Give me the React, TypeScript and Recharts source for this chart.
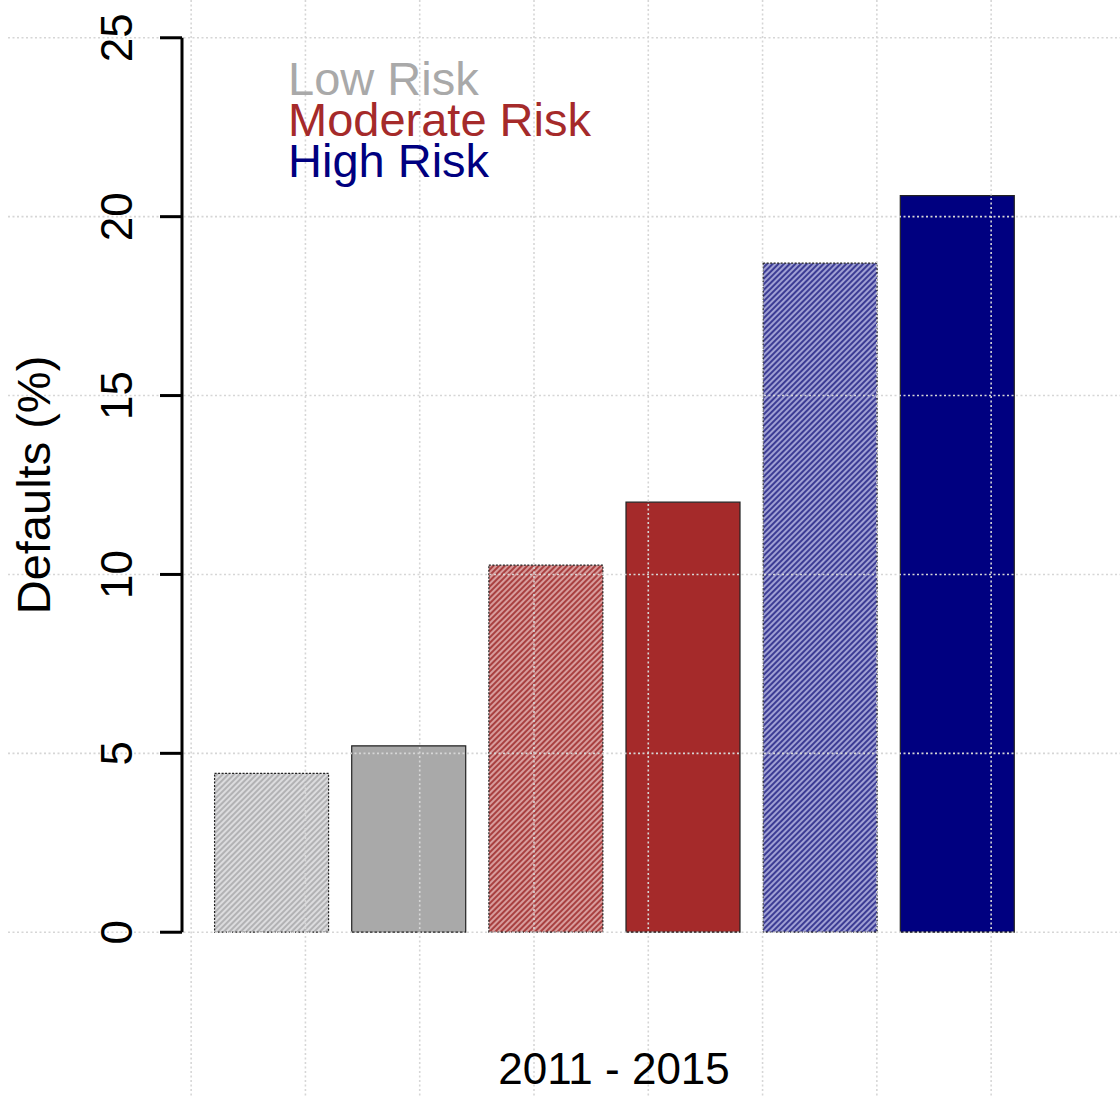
import React from 'react'
import {
  BarChart,
  Bar,
  Cell,
  XAxis,
  YAxis,
  CartesianGrid,
  ReferenceLine,
  Legend,
} from 'recharts'

// values
const riskLevels = ['Low Risk', 'Moderate Risk', 'High Risk']
const riskColors = ['#A9A9A9', '#A52A2A', '#000080']
const hatchedDefaults = [4.44, 10.26, 18.7]
const solidDefaults = [5.21, 12.02, 20.59]
const yTicks = [0, 5, 10, 15, 20, 25]
const xGridTicks = [0, 1, 2, 3, 4, 5, 6, 7]
const periodLabel = '2011 - 2015'

// hatch = line colour over a lighter background
const hatchLines = ['#b2b2b4', '#a84040', '#3c3c94']
const hatchBackgrounds = ['#dcdcde', '#d89c9c', '#a0a0d4']

// barplot-style layout: width 1, space 0.2
const BAR_W = 1
const BAR_GAP = 0.2

const bars = riskLevels
  .flatMap((risk, i) => [
    { risk, kind: 'hatched', value: hatchedDefaults[i], level: i },
    { risk, kind: 'solid', value: solidDefaults[i], level: i },
  ])
  .map((d, j) => ({ ...d, pos: BAR_GAP + j * (BAR_W + BAR_GAP) + BAR_W / 2 }))

const xEnd = bars.length * (BAR_W + BAR_GAP)
const xPad = (xEnd - BAR_GAP) * 0.04
const xDomain = [BAR_GAP - xPad, xEnd + xPad]

const W = 1120
const H = 1097

function YTick({ x, y, payload }: any) {
  return (
    <text
      x={x}
      y={y}
      transform={`rotate(-90, ${x}, ${y})`}
      textAnchor="middle"
      fontSize={44}
      fill="#000"
    >
      {payload.value}
    </text>
  )
}

function RiskLegend() {
  return (
    <div style={{ fontSize: 47, lineHeight: '41px' }}>
      {riskLevels.map((r, i) => (
        <div key={r} style={{ color: riskColors[i] }}>
          {r}
        </div>
      ))}
    </div>
  )
}

export default function App() {
  return (
    <div
      style={{
        position: 'absolute',
        left: 0,
        top: 0,
        width: W,
        height: H,
        background: '#fff',
        fontFamily: '"Liberation Sans", Arial, sans-serif',
      }}
    >
      <BarChart
        width={W}
        height={H}
        data={bars}
        margin={{ top: 2, right: 74, bottom: 0, left: 0 }}
      >
        <defs>
          {hatchLines.map((c, i) => (
            <pattern
              key={c}
              id={`hatch-${i}`}
              patternUnits="userSpaceOnUse"
              width="4"
              height="4"
              patternTransform="rotate(45)"
            >
              <rect width="4" height="4" fill={hatchBackgrounds[i]} />
              <line x1="1" y1="0" x2="1" y2="4" stroke={c} strokeWidth="2" />
            </pattern>
          ))}
        </defs>
        <XAxis
          type="number"
          dataKey="pos"
          domain={xDomain}
          ticks={xGridTicks}
          interval={0}
          allowDataOverflow
          tick={() => <g />}
          tickLine={false}
          axisLine={false}
          height={129}
          label={{
            value: periodLabel,
            position: 'insideBottom',
            offset: 13,
            style: { fontSize: 44, fill: '#000' },
          }}
        />
        <YAxis
          type="number"
          domain={[-1, 26]}
          ticks={yTicks}
          interval={0}
          allowDataOverflow
          width={182}
          stroke="#000"
          axisLine={false}
          tickSize={22}
          tickMargin={28}
          tickLine={{ stroke: '#000', strokeWidth: 3 }}
          tick={<YTick />}
          zIndex={800}
          label={{
            value: 'Defaults (%)',
            angle: -90,
            position: 'insideLeft',
            offset: 33,
            style: { textAnchor: 'middle', fontSize: 47, fill: '#000' },
          }}
        />
        <Legend
          layout="vertical"
          align="center"
          verticalAlign="middle"
          content={<RiskLegend />}
          wrapperStyle={{ top: 58, left: 288, width: 'auto' }}
        />
        <Bar dataKey="value" barSize={114} isAnimationActive={false}>
          {bars.map((d) => (
            <Cell
              key={d.risk + d.kind}
              fill={d.kind === 'hatched' ? `url(#hatch-${d.level})` : riskColors[d.level]}
              stroke="#222"
              strokeWidth={1.2}
              strokeDasharray={d.kind === 'hatched' ? '2 1.5' : undefined}
            />
          ))}
        </Bar>
        <CartesianGrid
          x={8}
          y={0}
          width={W - 8}
          height={H}
          syncWithTicks
          stroke="#d6d6d6"
          strokeWidth={1.6}
          strokeDasharray="2 2.5"
          zIndex={600}
        />
        <ReferenceLine
          segment={[
            { x: xDomain[0], y: 0 },
            { x: xDomain[0], y: 25 },
          ]}
          stroke="#000"
          strokeWidth={3}
          ifOverflow="visible"
          zIndex={700}
        />
      </BarChart>
    </div>
  )
}
